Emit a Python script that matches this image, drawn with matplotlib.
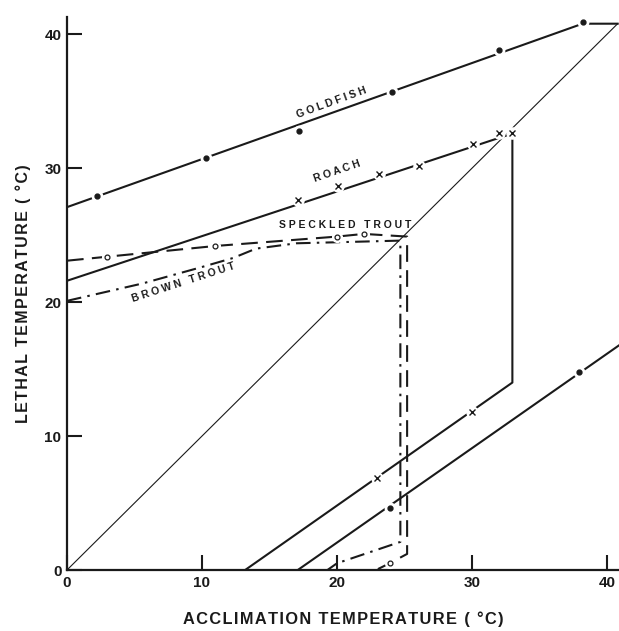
import matplotlib
matplotlib.use("Agg")
import matplotlib.pyplot as plt

plt.rcParams['font.family'] = ['Liberation Sans', 'DejaVu Sans']

# line paths (acclimation temp, lethal temp)
gold_up_x = [0, 38.2, 40.8]
gold_up_y = [27.1, 40.8, 40.8]
gold_lo_x = [17.1, 41.5]
gold_lo_y = [0, 17.2]
gold_pts_x = [2.2, 10.3, 17.2, 24.1, 32.0, 38.2, 23.9, 37.9]
gold_pts_y = [27.9, 30.8, 32.8, 35.7, 38.8, 40.9, 4.6, 14.8]

roach_x = [0, 33.0, 33.0, 13.2]
roach_y = [21.6, 32.6, 14.0, 0]
roach_pts_x = [17.1, 20.1, 23.1, 26.1, 30.1, 32.0, 33.0, 30.0, 23.0]
roach_pts_y = [27.6, 28.7, 29.6, 30.2, 31.8, 32.6, 32.6, 11.8, 6.9]

speck_x = [0, 3, 11, 20, 22, 25.2, 25.2, 23.9, 22.9]
speck_y = [23.1, 23.4, 24.2, 24.9, 25.1, 24.9, 1.2, 0.5, 0]
speck_pts_x = [3, 11, 20, 22, 23.9]
speck_pts_y = [23.4, 24.2, 24.9, 25.1, 0.5]

brown_x = [0, 5.6, 9.9, 12.3, 14.0, 17.0, 24.7, 24.7, 20.0, 19.3]
brown_y = [20.1, 21.4, 22.6, 23.3, 24.0, 24.4, 24.6, 2.1, 0.5, 0]

diag = [0, 40.8]

xticks = [0, 10, 20, 30, 40]
yticks = [0, 10, 20, 30, 40]


def spaced(s, gap='\u200a'):
    return gap.join(s)


fig = plt.figure(figsize=(6.19, 6.31), dpi=100)
ax = fig.add_axes([67/619, 61/631, 1 - 67/619, (570-17)/631])
ink = '#1a1a1a'

ax.plot(diag, diag, color=ink, lw=0.8)

ax.plot(gold_up_x, gold_up_y, color=ink, lw=1.5)
ax.plot(gold_lo_x, gold_lo_y, color=ink, lw=1.5)
ax.plot(roach_x, roach_y, color=ink, lw=1.5)
ax.plot(speck_x, speck_y, color=ink, lw=1.5, dashes=(8, 4))
ax.plot(brown_x, brown_y, color=ink, lw=1.5, dashes=(7, 3, 1.2, 3))

# white halo so the lines break around the points
ax.plot(gold_pts_x, gold_pts_y, 'o', color='white', ms=7.5, zorder=3)
ax.plot(gold_pts_x, gold_pts_y, 'o', color=ink, ms=3.5, zorder=4)
ax.plot(roach_pts_x, roach_pts_y, 'o', color='white', ms=8, zorder=3)
ax.plot(roach_pts_x, roach_pts_y, 'x', color=ink, ms=5, mew=1.0, zorder=4)
ax.plot(speck_pts_x, speck_pts_y, 'o', color='white', ms=7, zorder=3)
ax.plot(speck_pts_x, speck_pts_y, 'o', mfc='white', mec=ink, ms=3.5, mew=0.9, zorder=4)

tkw = dict(fontsize=7.5, fontweight='bold', color=ink, ha='center', va='center')
ax.text(19.6, 34.9, 'G O L D F I S H', rotation=20, **tkw)
ax.text(20.0, 29.8, 'R O A C H', rotation=19, **tkw)
ax.text(20.6, 25.8, 'S P E C K L E D   T R O U T', rotation=0, **tkw)
ax.text(8.6, 21.5, 'B R O W N   T R O U T', rotation=18, **tkw)

ax.set_xlim(0, 40.9)
ax.set_ylim(0, 41.3)
ax.set_xticks(xticks)
ax.set_yticks(yticks)
ax.tick_params(direction='in', length=11, width=1.5, color=ink,
               labelsize=11, pad=4, labelcolor=ink)
for lab in ax.get_xticklabels() + ax.get_yticklabels():
    lab.set_fontweight('bold')

for s in ['top', 'right']:
    ax.spines[s].set_visible(False)
for s in ['left', 'bottom']:
    ax.spines[s].set_linewidth(1.6)
    ax.spines[s].set_color(ink)

ax.set_xlabel(spaced('ACCLIMATION TEMPERATURE ( °C)'),
              fontsize=11.8, fontweight='bold', color=ink, labelpad=16)
ax.set_ylabel(spaced('LETHAL TEMPERATURE ( °C)'),
              fontsize=11.5, fontweight='bold', color=ink, labelpad=10)

fig.savefig('out.png', dpi=100)
